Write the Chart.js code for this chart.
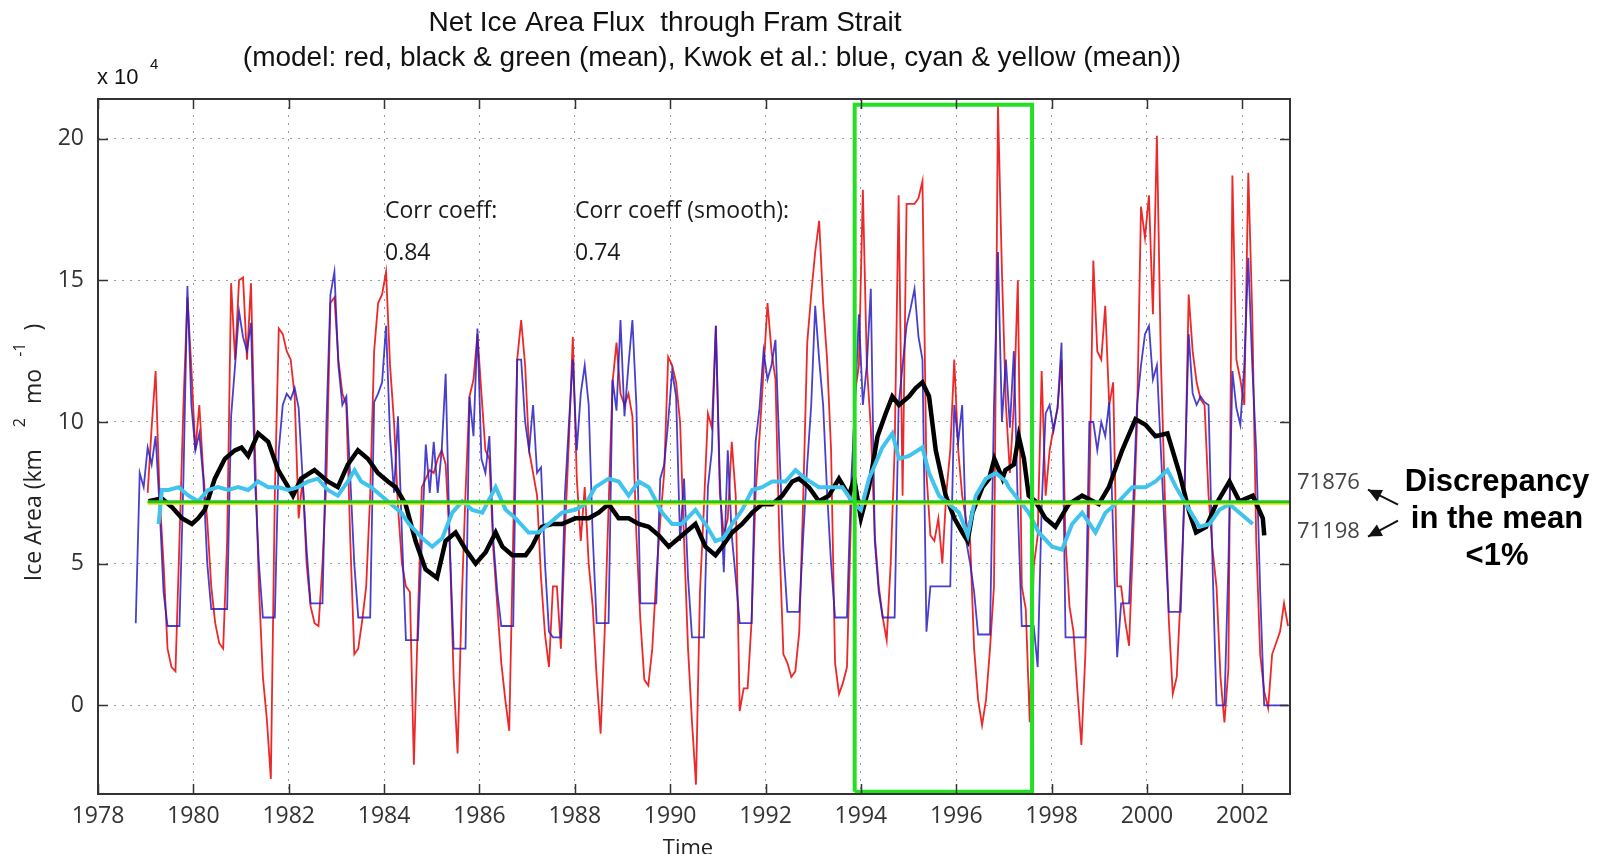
<!DOCTYPE html>
<html>
<head>
<meta charset="utf-8">
<script src="https://cdn.jsdelivr.net/npm/chart.js@4.4.1/dist/chart.umd.min.js"></script>
<style>
  html, body { margin: 0; padding: 0; background: #fff; }
  #wrap { width: 1610px; height: 854px; position: relative; }
</style>
</head>
<body>
<div id="wrap"><canvas id="fluxChart"></canvas></div>
<script>
// Net ice area flux through Fram Strait, units of 10^4 km^2 per month

// model, monthly from Jan 1979
const modelStart = 1979;
const modelFlux = [
  7.5, 9.8, 11.8, 7.4, 5.0, 2.0, 1.35, 1.2, 5.8, 10.6, 14.4, 11.9,   // 1979
  9.0, 10.6, 8.2, 6.5, 4.2, 2.9, 2.2, 2.0, 5.8, 14.9, 12.2, 15.0,    // 1980
  15.1, 12.2, 14.9, 9.0, 4.2, 1.0, -0.5, -2.6, 7.4, 13.3, 13.1, 12.5,// 1981
  12.2, 10.9, 6.6, 8.0, 5.0, 3.5, 2.9, 2.8, 5.0, 8.0, 14.2, 14.4,    // 1982
  12.2, 11.0, 10.6, 5.8, 1.8, 2.0, 3.0, 4.2, 7.4, 12.5, 14.2, 14.5,  // 1983
  15.3, 12.0, 10.0, 7.0, 5.0, 4.2, 4.0, -2.1, 3.0, 7.7, 8.0, 8.3,    // 1984
  8.2, 8.7, 9.0, 8.5, 5.8, 1.0, -1.7, 3.5, 7.5, 10.9, 11.5, 13.1,    // 1985
  11.0, 9.0, 8.7, 5.5, 3.5, 1.5, 0.2, -0.9, 6.0, 12.2, 13.6, 12.0,   // 1986
  9.0, 8.2, 7.4, 4.5, 2.5, 1.35, 4.2, 4.2, 2.0, 6.0, 9.3, 13.0,      // 1987
  8.0, 5.8, 7.7, 5.0, 3.5, 1.0, -1.0, 2.5, 7.0, 11.4, 12.8, 11.0,    // 1988
  10.6, 11.0, 10.2, 6.0, 3.0, 0.9, 0.7, 2.0, 4.5, 6.5, 8.2, 12.3,    // 1989
  12.0, 11.4, 10.0, 5.8, 2.0, -0.6, -2.8, 4.0, 7.0, 10.3, 9.8, 13.4, // 1990
  7.5, 6.0, 6.6, 9.3, 7.4, -0.2, 0.6, 0.6, 3.0, 7.5, 9.5, 11.8,      // 1991
  14.2, 12.5, 11.5, 5.8, 1.8, 1.5, 1.0, 1.2, 2.6, 7.4, 12.8, 14.5,   // 1992
  16.0, 17.1, 14.2, 12.2, 9.0, 1.5, 0.4, 0.8, 1.35, 6.6, 11.0, 12.0, // 1993
  18.2, 12.0, 9.8, 6.0, 4.2, 3.1, 2.3, 5.0, 9.0, 18.0, 7.4, 17.7,    // 1994
  17.7, 17.7, 17.9, 18.5, 8.2, 6.0, 5.8, 6.6, 5.0, 7.5, 9.0, 12.2,   // 1995
  9.0, 7.4, 6.5, 5.8, 2.0, 0.2, -0.7, 0.2, 2.0, 4.2, 21.2, 15.3,     // 1996
  10.6, 8.2, 10.6, 15.0, 4.2, 3.4, -0.6, 4.9, 6.0, 11.8, 7.4, 9.0,   // 1997
  9.8, 10.5, 12.2, 5.8, 3.5, 2.6, 0.5, -1.4, 1.8, 7.4, 15.7, 12.5,   // 1998
  12.2, 14.1, 10.6, 11.4, 4.2, 4.2, 3.0, 2.1, 5.8, 10.0, 17.6, 16.5, // 1999
  18.0, 13.8, 20.1, 12.2, 7.4, 3.0, 0.4, 1.0, 4.0, 7.5, 14.5, 12.5,  // 2000
  11.4, 10.8, 10.6, 7.4, 5.5, 4.2, 1.0, -0.6, 1.3, 18.7, 12.2, 11.5, // 2001
  10.6, 18.8, 13.8, 5.8, 1.8, 0.5, -0.1, 1.8, 2.2, 2.6, 3.6, 2.8     // 2002
];

// Kwok et al., monthly from Oct 1978
const kwokStart = 1978 + 9 / 12;
const kwokFlux = [
  2.9, 8.2, 7.7,                                                      // 1978
  9.1, 8.5, 9.5, 7.0, 4.0, 2.8, 2.8, 2.8, 2.8, 8.0, 14.8, 10.6,       // 1979
  9.0, 9.6, 8.0, 5.0, 3.4, 3.4, 3.4, 3.4, 3.4, 10.2, 12.0, 13.9,      // 1980
  13.0, 12.5, 13.5, 8.0, 5.0, 3.1, 3.1, 3.1, 3.1, 9.0, 10.6, 11.0,    // 1981
  10.8, 11.2, 10.5, 8.0, 5.5, 3.6, 3.6, 3.6, 3.6, 10.0, 14.5, 15.3,   // 1982
  12.0, 10.6, 10.9, 8.0, 5.0, 3.1, 3.1, 3.1, 3.1, 10.7, 11.0, 11.4,   // 1983
  13.4, 9.5, 7.5, 10.2, 6.0, 2.3, 2.3, 2.3, 2.3, 5.8, 9.2, 7.5,       // 1984
  9.3, 7.5, 9.0, 11.7, 5.8, 2.0, 2.0, 2.0, 2.0, 10.9, 9.5, 13.3,      // 1985
  8.7, 8.2, 9.5, 5.8, 4.0, 2.8, 2.8, 2.8, 2.8, 12.2, 12.2, 10.0,      // 1986
  9.0, 10.6, 8.2, 8.4, 5.0, 2.6, 2.4, 2.4, 2.4, 7.4, 9.9, 12.2,       // 1987
  9.0, 11.0, 12.0, 10.6, 6.0, 2.9, 2.9, 2.9, 2.9, 11.5, 10.4, 13.6,   // 1988
  10.2, 12.0, 13.6, 10.6, 3.6, 3.6, 3.6, 3.6, 3.6, 8.0, 8.5, 10.0,    // 1989
  11.8, 10.9, 5.8, 8.0, 4.5, 2.4, 2.4, 2.4, 2.4, 7.7, 9.0, 13.4,      // 1990
  8.0, 4.7, 9.0, 6.0, 4.5, 2.9, 2.9, 2.9, 2.9, 9.3, 10.5, 12.5,       // 1991
  11.5, 12.0, 12.9, 9.0, 5.5, 3.3, 3.3, 3.3, 3.3, 6.0, 8.5, 10.6,     // 1992
  14.1, 12.2, 10.6, 7.5, 5.0, 3.1, 3.1, 3.1, 3.1, 7.7, 10.5, 13.8,    // 1993
  10.6, 12.0, 14.7, 5.8, 4.0, 3.1, 3.1, 3.1, 3.1, 10.6, 12.0, 13.4,   // 1994
  14.0, 14.7, 13.0, 12.2, 2.6, 4.2, 4.2, 4.2, 4.2, 4.2, 4.2, 10.6,    // 1995
  9.3, 10.6, 5.8, 5.0, 4.0, 2.5, 2.5, 2.5, 2.5, 10.6, 16.0, 10.0,     // 1996
  12.2, 9.8, 12.5, 7.0, 2.8, 2.8, 2.8, 2.8, 1.35, 7.0, 10.3, 10.6,    // 1997
  9.7, 10.5, 12.8, 2.4, 2.4, 2.4, 2.4, 2.4, 2.4, 10.0, 10.0, 9.0,     // 1998
  10.0, 9.5, 10.7, 6.0, 1.7, 3.6, 3.6, 3.6, 7.0, 10.6, 12.0, 13.1,    // 1999
  13.4, 11.5, 12.0, 9.0, 6.0, 3.3, 3.3, 3.3, 3.3, 8.0, 13.1, 11.0,    // 2000
  10.6, 10.9, 10.7, 10.6, 5.0, 0.0, 0.0, 0.0, 5.0, 11.8, 10.5, 9.9,   // 2001
  12.0, 15.8, 12.0, 9.0, 4.0, 0.0, 0.0, 0.0, 0.0, 0.0, 0.0, 0.0       // 2002
];

// smoothed model (black)
const modelSmoothTime = [
  1979.06, 1979.34, 1979.55, 1979.76, 1979.97, 1980.10, 1980.24, 1980.45, 1980.66, 1980.87,
  1981.01, 1981.15, 1981.36, 1981.57, 1981.78, 1981.99, 1982.09, 1982.26, 1982.54, 1982.82,
  1983.03, 1983.24, 1983.45, 1983.66, 1983.87, 1984.08, 1984.24, 1984.45, 1984.66, 1984.87,
  1985.11, 1985.29, 1985.50, 1985.71, 1985.92, 1986.13, 1986.34, 1986.48, 1986.69, 1986.97,
  1987.10, 1987.31, 1987.52, 1987.73, 1988.01, 1988.29, 1988.50, 1988.71, 1988.92, 1989.13,
  1989.34, 1989.55, 1989.76, 1989.97, 1990.11, 1990.32, 1990.53, 1990.74, 1990.95, 1991.09,
  1991.30, 1991.51, 1991.72, 1991.93, 1992.14, 1992.35, 1992.56, 1992.70, 1992.91, 1993.12,
  1993.33, 1993.54, 1993.75, 1993.86, 1994.00, 1994.17, 1994.35, 1994.52, 1994.66, 1994.80,
  1995.01, 1995.15, 1995.29, 1995.43, 1995.57, 1995.78, 1995.96, 1996.13, 1996.24, 1996.34,
  1996.55, 1996.69, 1996.80, 1996.97, 1997.03, 1997.21, 1997.31, 1997.42, 1997.52, 1997.66,
  1997.87, 1998.08, 1998.36, 1998.64, 1998.99, 1999.20, 1999.48, 1999.76, 1999.97, 2000.18,
  2000.43, 2000.68, 2000.89, 2001.03, 2001.24, 2001.45, 2001.73, 2001.94, 2002.22, 2002.43,
  2002.46
];
const modelSmooth = [
  7.2, 7.3, 7.0, 6.6, 6.4, 6.6, 6.9, 8.0, 8.7, 9.0,
  9.1, 8.8, 9.6, 9.3, 8.3, 7.7, 7.4, 8.0, 8.3, 7.9,
  7.7, 8.5, 9.0, 8.7, 8.2, 7.9, 7.7, 7.1, 5.8, 4.8,
  4.5, 5.8, 6.1, 5.5, 5.0, 5.4, 6.1, 5.6, 5.3, 5.3,
  5.6, 6.3, 6.4, 6.4, 6.6, 6.6, 6.8, 7.1, 6.6, 6.6,
  6.4, 6.3, 6.0, 5.6, 5.8, 6.1, 6.4, 5.6, 5.3, 5.6,
  6.1, 6.4, 6.8, 7.1, 7.1, 7.4, 7.9, 8.0, 7.7, 7.2,
  7.4, 8.0, 7.4, 8.0, 6.6, 7.7, 9.5, 10.3, 10.9, 10.6,
  10.9, 11.2, 11.4, 10.9, 9.0, 7.4, 6.6, 6.1, 5.8, 6.8,
  7.7, 8.0, 8.7, 8.0, 8.3, 8.5, 9.5, 8.7, 7.4, 7.2,
  6.6, 6.3, 7.1, 7.4, 7.1, 7.7, 9.0, 10.1, 9.9, 9.5,
  9.6, 8.2, 6.8, 6.1, 6.3, 7.1, 7.9, 7.2, 7.4, 6.6,
  6.0
];

// smoothed Kwok et al. (cyan)
const kwokSmoothTime = [
  1979.27, 1979.34, 1979.48, 1979.69, 1979.90, 1980.10, 1980.31, 1980.52, 1980.73, 1980.94,
  1981.15, 1981.36, 1981.57, 1981.78, 1981.99, 1982.20, 1982.40, 1982.61, 1982.82, 1983.03,
  1983.24, 1983.38, 1983.52, 1983.73, 1983.94, 1984.15, 1984.36, 1984.52, 1984.80, 1985.01,
  1985.22, 1985.43, 1985.64, 1985.85, 1986.06, 1986.34, 1986.55, 1986.76, 1987.03, 1987.24,
  1987.45, 1987.73, 1988.01, 1988.22, 1988.43, 1988.71, 1988.92, 1989.13, 1989.34, 1989.55,
  1989.83, 1990.04, 1990.24, 1990.53, 1990.74, 1990.95, 1991.12, 1991.30, 1991.51, 1991.72,
  1991.93, 1992.14, 1992.42, 1992.63, 1992.84, 1993.12, 1993.33, 1993.61, 1993.82, 1994.00,
  1994.17, 1994.45, 1994.66, 1994.80, 1995.01, 1995.29, 1995.43, 1995.64, 1995.85, 1996.06,
  1996.24, 1996.41, 1996.62, 1996.83, 1997.04, 1997.10, 1997.38, 1997.52, 1997.73, 1998.01,
  1998.22, 1998.43, 1998.64, 1998.92, 1999.13, 1999.41, 1999.69, 1999.97, 2000.18, 2000.43,
  2000.61, 2000.82, 2001.10, 2001.31, 2001.52, 2001.73, 2001.94, 2002.22
];
const kwokSmooth = [
  6.4, 7.6, 7.6, 7.7, 7.4, 7.2, 7.6, 7.7, 7.6, 7.7,
  7.6, 7.9, 7.7, 7.7, 7.6, 7.7, 7.9, 8.0, 7.6, 7.4,
  7.9, 8.3, 7.9, 7.7, 7.4, 7.1, 6.8, 6.4, 5.9, 5.6,
  5.9, 6.8, 7.2, 6.9, 6.8, 7.7, 6.9, 6.6, 6.1, 6.1,
  6.4, 6.8, 6.9, 7.1, 7.7, 8.0, 7.9, 7.4, 7.9, 7.7,
  6.8, 6.4, 6.4, 6.9, 6.4, 5.8, 5.9, 6.4, 6.9, 7.6,
  7.7, 7.9, 7.9, 8.3, 8.0, 7.7, 7.7, 7.7, 7.2, 6.9,
  8.0, 9.1, 9.6, 8.7, 8.8, 9.1, 8.2, 7.4, 7.1, 6.8,
  6.0, 7.4, 8.0, 8.2, 7.9, 7.7, 7.1, 6.8, 6.1, 5.6,
  5.5, 6.4, 6.8, 6.1, 6.8, 7.2, 7.7, 7.7, 7.9, 8.3,
  7.7, 7.1, 6.3, 6.4, 6.9, 7.1, 6.8, 6.4
];

// long-term means (km^2/mo)
const meanTime = [1979.04, 2003];
const modelMean = 71876;
const kwokMean = 71198;

// highlighted period 1994-1997
const boxTime = [1993.87, 1993.87, 1997.59, 1997.59, 1993.87];
const boxFlux = [-3.05, 21.2, 21.2, -3.05, -3.05];

const yearTicks = [1978, 1980, 1982, 1984, 1986, 1988, 1990, 1992, 1994, 1996, 1998, 2000, 2002];
const fluxTicks = [0, 5, 10, 15, 20];

const monthly = (start, values) => values.map((v, i) => ({ x: start + (i + 0.5) / 12, y: v }));
const paired = (xs, ys) => xs.map((x, i) => ({ x: x, y: ys[i] }));

const line = (label, data, color, width) => ({
  label: label,
  data: data,
  borderColor: color,
  borderWidth: width,
  pointRadius: 0,
  fill: false,
  tension: 0,
});

const decorations = {
  id: "decorations",
  afterDraw(chart) {
    const { ctx, chartArea: a, scales } = chart;
    ctx.save();

    // inner tick marks, matlab style
    ctx.strokeStyle = "#333";
    ctx.lineWidth = 1.5;
    ctx.beginPath();
    yearTicks.forEach((v) => {
      const x = Math.round(scales.x.getPixelForValue(v)) + 0.5;
      ctx.moveTo(x, a.bottom); ctx.lineTo(x, a.bottom - 10);
      ctx.moveTo(x, a.top); ctx.lineTo(x, a.top + 10);
    });
    fluxTicks.forEach((v) => {
      const y = Math.round(scales.y.getPixelForValue(v)) + 0.5;
      ctx.moveTo(a.left, y); ctx.lineTo(a.left + 10, y);
      ctx.moveTo(a.right, y); ctx.lineTo(a.right - 10, y);
    });
    ctx.stroke();

    ctx.lineWidth = 2;
    ctx.strokeRect(a.left, a.top, a.right - a.left, a.bottom - a.top);

    // titles
    ctx.fillStyle = "#111";
    ctx.textAlign = "center";
    ctx.textBaseline = "middle";
    ctx.font = "28px 'Liberation Sans', Arial, sans-serif";
    ctx.fillText("Net Ice Area Flux  through Fram Strait", 665, 23);
    ctx.fillText("(model: red, black & green (mean), Kwok et al.: blue, cyan & yellow (mean))", 712, 58);

    // exponent
    ctx.textAlign = "left";
    ctx.font = "22px 'Liberation Sans', Arial, sans-serif";
    ctx.fillText("x 10", a.left - 1, a.top - 21);
    ctx.font = "15px 'Liberation Sans', Arial, sans-serif";
    ctx.fillText("4", a.left + 52, a.top - 34);

    // axis titles
    ctx.fillStyle = "#222";
    ctx.font = "22px 'Open Sans', sans-serif";
    ctx.textAlign = "center";
    ctx.textBaseline = "top";
    ctx.fillText("Time", (a.left + a.right) / 2 - 6, a.bottom + 44);

    const parts = [
      { t: "Ice Area (km", sup: false, gap: 22 },
      { t: "2", sup: true, gap: 14 },
      { t: "mo", sup: false, gap: 12 },
      { t: "-1", sup: true, gap: 12 },
      { t: ")", sup: false, gap: 0 },
    ];
    const fontFor = (p) => (p.sup ? "16px 'Open Sans', sans-serif" : "23px 'Open Sans', sans-serif");
    let total = 0;
    parts.forEach((p) => { ctx.font = fontFor(p); total += ctx.measureText(p.t).width + p.gap; });
    ctx.save();
    ctx.translate(34, (a.top + a.bottom) / 2 + 6);
    ctx.rotate(-Math.PI / 2);
    ctx.textAlign = "left";
    ctx.textBaseline = "middle";
    let pos = -total / 2;
    parts.forEach((p) => {
      ctx.font = fontFor(p);
      ctx.fillText(p.t, pos, p.sup ? -14 : 0);
      pos += ctx.measureText(p.t).width + p.gap;
    });
    ctx.restore();

    // correlation notes
    ctx.fillStyle = "#1a1a1a";
    ctx.textAlign = "left";
    ctx.textBaseline = "middle";
    ctx.font = "23px 'Open Sans', sans-serif";
    ctx.fillText("Corr coeff:", 385, 211);
    ctx.fillText("0.84", 385, 253);
    ctx.fillText("Corr coeff (smooth):", 575, 211);
    ctx.fillText("0.74", 575, 253);

    // mean values on the right
    const yModel = scales.y.getPixelForValue(modelMean / 1e4);
    const yKwok = scales.y.getPixelForValue(kwokMean / 1e4);
    ctx.fillStyle = "#444";
    ctx.font = "22px 'Open Sans', sans-serif";
    ctx.fillText(String(modelMean), a.right + 7, yModel - 19);
    ctx.fillText(String(kwokMean), a.right + 7, yKwok + 28);

    const arrow = (x1, y1, x2, y2) => {
      ctx.strokeStyle = "#111";
      ctx.fillStyle = "#111";
      ctx.lineWidth = 2;
      ctx.beginPath(); ctx.moveTo(x1, y1); ctx.lineTo(x2, y2); ctx.stroke();
      const ang = Math.atan2(y2 - y1, x2 - x1);
      ctx.beginPath();
      ctx.moveTo(x2, y2);
      ctx.lineTo(x2 - 15 * Math.cos(ang - 0.45), y2 - 15 * Math.sin(ang - 0.45));
      ctx.lineTo(x2 - 15 * Math.cos(ang + 0.45), y2 - 15 * Math.sin(ang + 0.45));
      ctx.closePath(); ctx.fill();
    };
    arrow(a.right + 108, yModel + 3, a.right + 78, yModel - 12);
    arrow(a.right + 108, yKwok + 17, a.right + 78, yKwok + 33);

    ctx.fillStyle = "#000";
    ctx.textAlign = "center";
    ctx.font = "bold 31px 'Liberation Sans', Arial, sans-serif";
    ctx.fillText("Discrepancy", a.right + 207, yModel - 19);
    ctx.fillText("in the mean", a.right + 207, yModel + 18);
    ctx.fillText("<1%", a.right + 207, yModel + 55);

    ctx.restore();
  },
};

new Chart(document.getElementById("fluxChart"), {
  type: "line",
  data: {
    datasets: [
      line("box", paired(boxTime, boxFlux), "#22e022", 4),
      line("model mean", paired(meanTime, meanTime.map(() => modelMean / 1e4)), "#22c422", 3),
      line("Kwok mean", paired(meanTime, meanTime.map(() => kwokMean / 1e4)), "#e6e600", 2.5),
      line("Kwok smooth", paired(kwokSmoothTime, kwokSmooth), "#40c4ee", 4),
      line("model smooth", paired(modelSmoothTime, modelSmooth), "#000000", 4.5),
      line("Kwok et al.", monthly(kwokStart, kwokFlux), "rgba(40,30,195,0.85)", 1.8),
      line("model", monthly(modelStart, modelFlux), "rgba(236,28,28,0.95)", 1.8),
    ],
  },
  options: {
    responsive: true,
    maintainAspectRatio: false,
    animation: false,
    layout: { padding: { left: 0, top: 99, right: 320, bottom: 0 } },
    plugins: { legend: { display: false }, tooltip: { enabled: false } },
    scales: {
      x: {
        type: "linear",
        min: 1978,
        max: 2003,
        afterBuildTicks: (s) => { s.ticks = yearTicks.map((v) => ({ value: v })); },
        afterFit: (s) => { s.height = 60; },
        grid: { color: "rgba(0,0,0,0.4)", lineWidth: 1, drawTicks: false },
        border: { display: false, dash: [2, 6] },
        ticks: {
          autoSkip: false,
          maxRotation: 0,
          padding: 9,
          color: "#333",
          font: { family: "'Open Sans', sans-serif", size: 23 },
          callback: (v) => String(v),
        },
      },
      y: {
        type: "linear",
        min: -3.13,
        max: 21.4,
        afterBuildTicks: (s) => { s.ticks = fluxTicks.map((v) => ({ value: v })); },
        afterFit: (s) => { s.width = 98; },
        grid: { color: "rgba(0,0,0,0.4)", lineWidth: 1, drawTicks: false },
        border: { display: false, dash: [2, 6] },
        ticks: {
          padding: 14,
          color: "#333",
          font: { family: "'Open Sans', sans-serif", size: 23 },
          callback: (v) => String(v),
        },
      },
    },
  },
  plugins: [decorations],
});
</script>
</body>
</html>
